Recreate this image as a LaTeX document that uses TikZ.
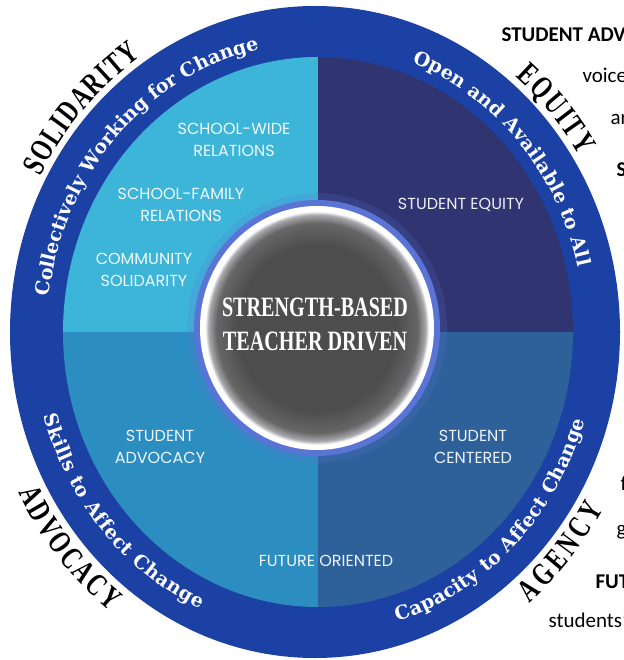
\documentclass[tikz,border=0pt]{standalone}
\usepackage{fontspec}
\usetikzlibrary{decorations.text}
\newfontfamily\ringfont{DejaVu Serif}
\newfontfamily\condfont[FakeStretch=0.72,UprightFont=* Bold]{Liberation Serif}
\newfontfamily\quadfont{Poppins}
\newfontfamily\sidefont{Carlito}
\definecolor{ringblue}{HTML}{1C41A5}
\definecolor{qtl}{HTML}{3DB5D8}
\definecolor{qtr}{HTML}{303470}
\definecolor{qbl}{HTML}{2C8DC0}
\definecolor{qbr}{HTML}{2E6199}
\definecolor{glowblue}{HTML}{5A74D6}
\definecolor{hubgray}{HTML}{4D4D4D}
\definecolor{hubmid}{HTML}{666666}
\definecolor{hubedge}{HTML}{A8A8AE}
\pgfdeclareradialshading{hubglow}{\pgfpoint{0bp}{0bp}}{color(0bp)=(hubgray); color(17bp)=(hubgray); color(21.5bp)=(hubmid); color(23.2bp)=(hubedge); color(23.9bp)=(white); color(25bp)=(white); color(50bp)=(white)}
\newcommand\ArcLabel[7]{%
  \path[decorate, decoration={text along path, text={|#5|#6}, text color=#7, text align={fit to path}}]
    ({#1*cos(#3)},{#2*sin(#3)}) arc[start angle=#3, end angle=#4, x radius=#1, y radius=#2];}
\tikzset{
  quadtext/.style={align=center, text=white, text opacity=0.92, font=\quadfont\fontsize{16}{22}\selectfont},
  sidetext/.style={anchor=base west, text=black, font=\sidefont\fontsize{21}{21}\selectfont},
}
\begin{document}
\begin{tikzpicture}[x=1pt,y=1pt]
\useasboundingbox (-315,-328) rectangle (308,332);
% outer ring
\fill[ringblue] (0,0) ellipse[x radius=305, y radius=326];
% quadrants
\fill[qtl] (3,0) -- (3,275) arc[start angle=90,end angle=180,x radius=255,y radius=275] -- cycle;
\fill[qtr] (3,0) -- (258,0) arc[start angle=0,end angle=90,x radius=255,y radius=275] -- cycle;
\fill[qbl] (3,0) -- (-252,0) arc[start angle=180,end angle=270,x radius=255,y radius=275] -- cycle;
\fill[qbr] (3,0) -- (3,-275) arc[start angle=270,end angle=360,x radius=255,y radius=275] -- cycle;
% hub
\fill[glowblue, opacity=0.2] (2,4) ellipse[x radius=130, y radius=135];
\fill[glowblue] (2,4) ellipse[x radius=123, y radius=128];
\shade[shading=hubglow] (2,4) ellipse[x radius=117, y radius=122];
\node[align=center, text=white, font=\condfont\fontsize{28}{34}\selectfont] (hub) at (0,8) {STRENGTH-BASED\\TEACHER DRIVEN};
% quadrant texts
\node[quadtext] (swr) at (-81,192) {SCHOOL-WIDE\\RELATIONS};
\node[quadtext] (sfr) at (-134,127) {SCHOOL-FAMILY\\RELATIONS};
\node[quadtext] (cs) at (-171,62) {COMMUNITY\\SOLIDARITY};
\node[quadtext] (se) at (146,127) {STUDENT EQUITY};
\node[quadtext] (sa) at (-155,-115) {STUDENT\\ADVOCACY};
\node[quadtext] (sc) at (158,-115) {STUDENT\\CENTERED};
\node[quadtext] (fo) at (11,-229) {FUTURE ORIENTED};
% ring texts
\ArcLabel{268}{289}{173}{103}{\ringfont\bfseries\fontsize{19}{19}\selectfont}{Collectively Working for Change}{white}
\ArcLabel{270}{289}{69}{13}{\ringfont\bfseries\fontsize{19}{19}\selectfont}{Open and Available to All}{white}
\ArcLabel{282}{303}{196}{246}{\ringfont\bfseries\fontsize{19}{19}\selectfont}{Skills to Affect Change}{white}
\ArcLabel{282}{303}{287}{343}{\ringfont\bfseries\fontsize{19}{19}\selectfont}{Capacity to Affect Change}{white}
% outer black labels
\ArcLabel{311}{332}{152}{124}{\condfont\fontsize{32}{32}\selectfont}{SOLIDARITY}{black}
\ArcLabel{312}{333}{50}{32}{\condfont\fontsize{32}{32}\selectfont}{EQUITY}{black}
\ArcLabel{333}{354}{207}{232}{\condfont\fontsize{32}{32}\selectfont}{ADVOCACY}{black}
\ArcLabel{333}{354}{310}{330}{\condfont\fontsize{32}{32}\selectfont}{AGENCY}{black}
% clipped side texts
\begin{scope}
\clip (-315,-328) rectangle (308,332);
\node[sidetext, font=\sidefont\bfseries\fontsize{21}{21}\selectfont] (t1) at (183,290) {STUDENT ADV};
\node[sidetext] (t2) at (264,249) {voice};
\node[sidetext] (t3) at (292,207) {ar};
\node[sidetext, font=\sidefont\bfseries\fontsize{21}{21}\selectfont] (t4) at (298,155) {S};
\node[sidetext] (t5) at (302,-158) {f};
\node[sidetext] (t6) at (298,-203) {g};
\node[sidetext, font=\sidefont\bfseries\fontsize{21}{21}\selectfont] (t7) at (277,-256) {FUT};
\node[sidetext] (t8) at (230,-295) {students’};
\end{scope}
\end{tikzpicture}
\end{document}
